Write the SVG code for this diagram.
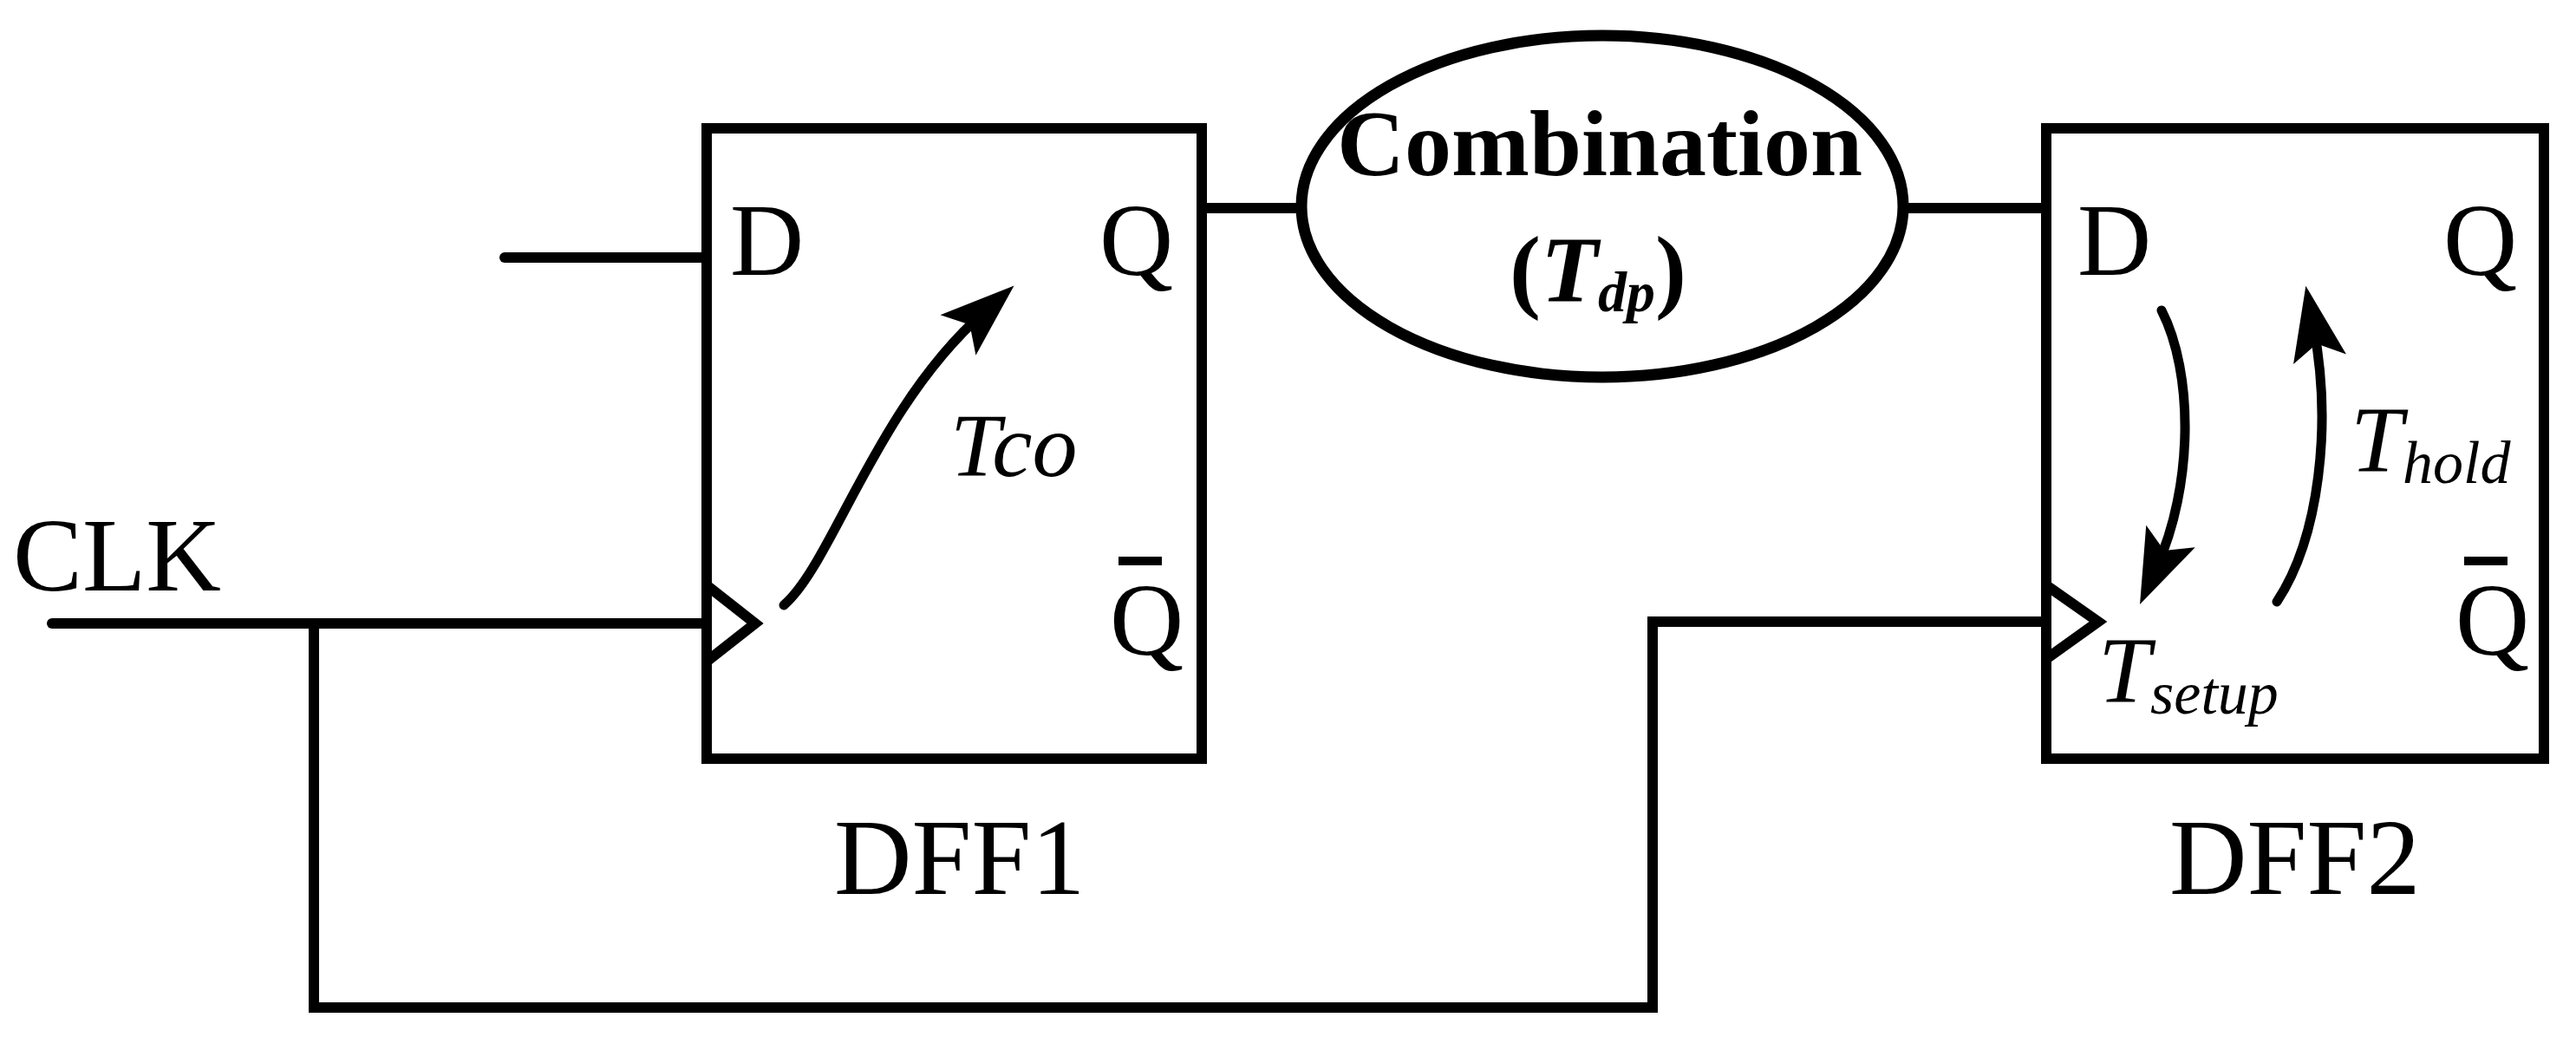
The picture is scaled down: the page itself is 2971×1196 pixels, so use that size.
<svg xmlns="http://www.w3.org/2000/svg" width="2971" height="1196" viewBox="0 0 2971 1196">
<style>
.w{fill:none;stroke:#000;stroke-width:12;stroke-linecap:round;stroke-linejoin:miter}
.t{font-family:"Liberation Serif",serif;fill:#000}
.arc{fill:none;stroke:#000;stroke-width:11;stroke-linecap:round}
</style>
<defs>
<marker id="ah" markerUnits="userSpaceOnUse" viewBox="0 0 90 70" markerWidth="90" markerHeight="70" refX="40" refY="35" orient="auto" overflow="visible">
<path d="M0,4 L86,35 L0,66 L18,35 Z" fill="#000"/>
</marker>
</defs>
<rect width="2971" height="1196" fill="#fff"/>
<g id="connectors">
<path class="w" d="M582,297 H815"/>
<path class="w" d="M60,719 H815"/>
<path class="w" d="M362,719 V1162 H1906 V717 H2360"/>
<path class="w" d="M1386,240 H1501"/>
<path class="w" d="M2195,240 H2360"/>
</g>
<g id="dff1">
<rect class="w" x="815" y="148" width="571" height="727"/>
<path class="w" d="M815,675 L871,719 L815,763"/>
<text class="t" x="842" y="317" font-size="118">D</text>
<text class="t" x="1268" y="317" font-size="118">Q</text>
<text class="t" x="1280" y="755" font-size="118">Q</text>
<path d="M1290,647 H1340" stroke="#000" stroke-width="10"/>
<path class="arc" d="M904,698 C960,650 1010,470 1135,360" marker-end="url(#ah)"/>
<text class="t" x="1096" y="549" font-size="104" font-style="italic">Tco</text>
<text class="t" x="962" y="1031" font-size="124">DFF1</text>
</g>
<g id="clk"><text class="t" x="15" y="681" font-size="120">CLK</text></g>
<g id="combination">
<ellipse cx="1848" cy="238" rx="347" ry="197" fill="none" stroke="#000" stroke-width="13"/>
<text class="t" x="1845" y="202" font-size="108" font-weight="bold" text-anchor="middle">Combination</text>
<text class="t" x="1843" y="347" font-size="108" font-weight="bold" text-anchor="middle">(<tspan font-style="italic">T</tspan><tspan font-style="italic" font-size="66" dy="12">dp</tspan><tspan dy="-12">)</tspan></text>
</g>
<g id="dff2">
<rect class="w" x="2360" y="148" width="574" height="727"/>
<path class="w" d="M2360,675 L2420,717 L2360,760"/>
<text class="t" x="2396" y="317" font-size="118">D</text>
<text class="t" x="2818" y="317" font-size="118">Q</text>
<text class="t" x="2832" y="755" font-size="118">Q</text>
<path d="M2842,647 H2892" stroke="#000" stroke-width="10"/>
<path class="arc" d="M2493,358 C2530,430 2530,560 2487,655" marker-end="url(#ah)"/>
<path class="arc" d="M2626,694 C2675,620 2690,490 2668,375" marker-end="url(#ah)"/>
<text class="t" x="2420" y="809" font-size="108" font-style="italic">T<tspan font-size="70" dy="14">setup</tspan></text>
<text class="t" x="2711" y="543" font-size="108" font-style="italic">T<tspan font-size="70" dy="14">hold</tspan></text>
<text class="t" x="2502" y="1031" font-size="124">DFF2</text>
</g>
</svg>
